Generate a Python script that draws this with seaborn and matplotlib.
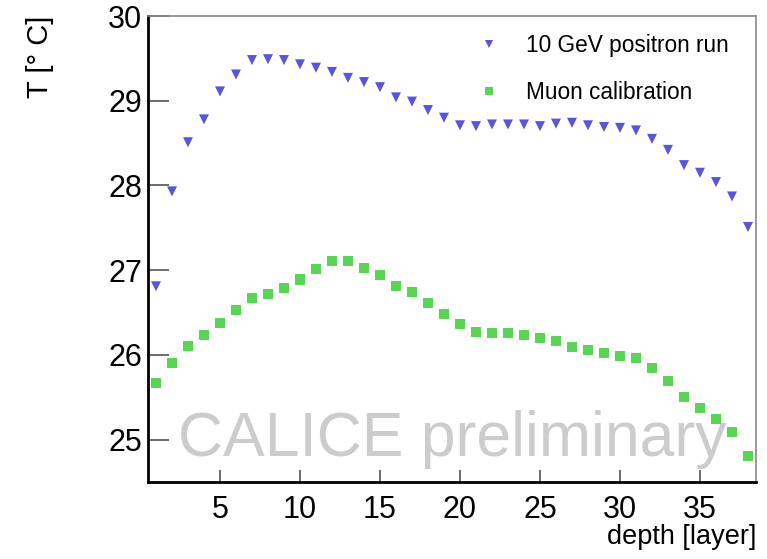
"""
plot.py
Layer temperature profile, positron run vs muon calibration (CALICE style).
"""
import pandas as pd
import matplotlib.pyplot as plt
import seaborn as sns
from matplotlib.ticker import MultipleLocator

# --- data ---
layers = list(range(1, 39))
positron_T = [26.81, 27.93, 28.51, 28.78, 29.11, 29.31, 29.48, 29.49, 29.48, 29.43,
              29.39, 29.34, 29.27, 29.22, 29.16, 29.04, 28.99, 28.89, 28.80, 28.71,
              28.70, 28.72, 28.72, 28.72, 28.70, 28.73, 28.74, 28.71, 28.69, 28.68,
              28.65, 28.55, 28.42, 28.24, 28.15, 28.04, 27.87, 27.51]
muon_T = [25.67, 25.90, 26.11, 26.24, 26.38, 26.53, 26.67, 26.72, 26.79, 26.89,
          27.01, 27.11, 27.11, 27.02, 26.94, 26.81, 26.74, 26.61, 26.48, 26.36,
          26.27, 26.26, 26.26, 26.24, 26.20, 26.16, 26.09, 26.06, 26.02, 25.99,
          25.96, 25.85, 25.69, 25.50, 25.37, 25.24, 25.09, 24.81]
series_names = ["10 GeV positron run", "Muon calibration"]
colors = ["#5954D8", "#59D454"]
markers = ["v", "s"]

df = pd.concat([
    pd.DataFrame({"layer": layers, "T": positron_T, "series": series_names[0]}),
    pd.DataFrame({"layer": layers, "T": muon_T, "series": series_names[1]}),
])

sns.set_style("white")
plt.rcParams["font.family"] = ["Liberation Sans", "DejaVu Sans"]
plt.rcParams["text.color"] = "black"
plt.rcParams["axes.labelcolor"] = "black"

fig = plt.figure(figsize=(7.67, 5.59), dpi=100)
ax = fig.add_axes([148 / 767, 1 - 482 / 559, 608 / 767, 466 / 559])

# watermark sits under the markers
ax.text(0.952, 0.056, "CALICE preliminary", transform=ax.transAxes,
        ha="right", va="baseline", fontsize=45, color="#cccccc", zorder=0)

sns.scatterplot(data=df, x="layer", y="T", hue="series", style="series",
                palette=dict(zip(series_names, colors)),
                markers=dict(zip(series_names, markers)),
                s=52, linewidth=0, ax=ax, zorder=3)

ax.set_xlim(0.5, 38.5)
ax.set_ylim(24.5, 30)
ax.xaxis.set_major_locator(MultipleLocator(5))
ax.xaxis.set_minor_locator(MultipleLocator(1))
ax.yaxis.set_major_locator(MultipleLocator(1))
ax.yaxis.set_minor_locator(MultipleLocator(0.2))
ax.set_xticks([5, 10, 15, 20, 25, 30, 35])
ax.set_yticks([25, 26, 27, 28, 29, 30])

ax.tick_params(axis="both", which="both", direction="in", color="#444444",
               labelcolor="black", labelsize=22, width=1.1)
ax.tick_params(axis="x", which="major", length=9, pad=9.5)
ax.tick_params(axis="x", which="minor", length=4.5)
ax.tick_params(axis="y", which="major", length=15, pad=4)
ax.tick_params(axis="y", which="minor", length=8)
ax.tick_params(bottom=True, left=True, top=False, right=False)

for side in ["left", "bottom"]:
    ax.spines[side].set_color("black")
    ax.spines[side].set_linewidth(2)
for side in ["top", "right"]:
    ax.spines[side].set_color("#888888")
    ax.spines[side].set_linewidth(1.2)

ax.set_xlabel("depth [layer]", fontsize=19.5, loc="right")
ax.xaxis.set_label_coords(1.0, -0.133)
ax.xaxis.label.set_va("baseline")
ax.set_ylabel("T [° C]", fontsize=21, loc="top")
ax.yaxis.set_label_coords(-0.155, 1.0)

handles, labels = ax.get_legend_handles_labels()
ax.legend(handles, labels, loc="upper left", bbox_to_anchor=(0.543, 0.961),
          frameon=False, fontsize=16.3, handlelength=1.0, handletextpad=1.1,
          labelspacing=1.04, borderpad=0, borderaxespad=0, markerscale=0.8)

plt.savefig("out.png", dpi=100)
